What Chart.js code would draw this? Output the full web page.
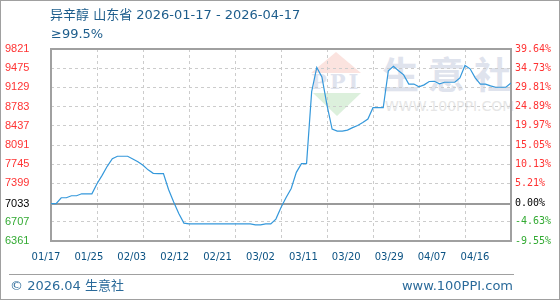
<!DOCTYPE html>
<html>
<head>
<meta charset="utf-8">
<script src="https://cdn.jsdelivr.net/npm/chart.js@4.4.1/dist/chart.umd.min.js"></script>
<style>
  body { margin: 0; background: #fff; }
  #wrap { position: relative; width: 560px; height: 300px; overflow: hidden;
          font-family: "DejaVu Sans", "Noto Sans CJK SC", sans-serif; }
  #frame { position: absolute; left: 0; top: 0; width: 558px; height: 298px; border: 1px solid #a0a0a0; }
  #chart { position: absolute; left: 0; top: 0; }
  .txt { position: absolute; white-space: nowrap; }
  .title { left: 50px; top: 6px; font-size: 13px; line-height: 18px; color: #1d5d8c; }
  .sub { left: 51px; top: 25px; font-size: 13px; line-height: 18px; color: #1d5d8c; }
  .foot { top: 277px; font-size: 13px; line-height: 17px; color: #2a6a9a; }
  #sep { position: absolute; left: 9px; top: 274px; width: 505px; height: 1px; background: #a0a0a0; }
  /* 水印 */
  .wm { position: absolute; width: 0; height: 0; }
  #wmUp { left: 311px; top: 52px; border-left: 25px solid transparent; border-right: 25px solid transparent; border-bottom: 21px solid #fbe3df; }
  #wmDown { left: 313px; top: 93px; border-left: 24px solid transparent; border-right: 24px solid transparent; border-top: 23px solid #dcf0dc; }
  #wmPPI { left: 311px; top: 70px; font-family: "DejaVu Serif", serif; font-weight: 700; font-size: 21px; line-height: 24px; letter-spacing: 3px; color: #dfe3ee; }
  .wmChar { top: 52px; font-family: "Noto Sans CJK SC", sans-serif; font-weight: 700; font-size: 37px; line-height: 42px; color: #dfe3ed; }
  #wmUrl { left: 385px; top: 98px; font-size: 14px; line-height: 16px; color: #e6e6e6; }
</style>
</head>
<body>
<div id="wrap">
  <div id="wmUp" class="wm"></div>
  <div id="wmDown" class="wm"></div>
  <div id="wmPPI" class="txt">PPI</div>
  <div class="txt wmChar" style="left:382px;">生</div>
  <div class="txt wmChar" style="left:428px;">意</div>
  <div class="txt wmChar" style="left:474px;">社</div>
  <div id="wmUrl" class="txt">WWW.100PPI.COM</div>
  <canvas id="chart" width="560" height="300"></canvas>
  <div class="txt title">异辛醇 山东省 2026-01-17 - 2026-04-17</div>
  <div class="txt sub">≥99.5%</div>
  <div id="sep"></div>
  <div class="txt foot" style="left:10px;">© 2026.04 生意社</div>
  <div class="txt foot" style="right:47px;">www.100PPI.com</div>
  <div id="frame"></div>
</div>
<script>
// 日价格 (元/吨), 从 2026-01-17 起每天一个值
const startDate = '2026-01-17';
const basePrice = 7033;
const prices = [
    7033, 7033, 7140, 7140, 7176, 7176, 7212, 7212, 7212, 7393,
    7544, 7707, 7843, 7888, 7888, 7888, 7839, 7788, 7725, 7643,
    7580, 7575, 7575, 7290, 7064, 6855, 6683, 6669, 6669, 6669,
    6669, 6669, 6669, 6669, 6669, 6669, 6669, 6669, 6669, 6669,
    6651, 6651, 6669, 6669, 6756, 6964, 7145, 7308, 7598, 7756,
    7756, 9053, 9488, 9319, 8810, 8377, 8341, 8341, 8360, 8404,
    8441, 8495, 8558, 8763, 8763, 8763, 9428, 9509, 9428, 9355,
    9189, 9189, 9140, 9175, 9235, 9240, 9195, 9222, 9222, 9222,
    9301, 9524, 9464, 9301, 9187, 9187, 9156, 9132, 9132, 9132,
    9210
];
const dateLabels = ['01/17', '01/25', '02/03', '02/12', '02/21', '03/02', '03/11', '03/20', '03/29', '04/07', '04/16'];
const yTicks = [6361, 6707, 7033, 7399, 7745, 8091, 8437, 8783, 9129, 9475, 9821];
const pctLabels = ['-9.55%', '-4.63%', '0.00%', '5.21%', '10.13%', '15.05%', '19.97%', '24.89%', '29.81%', '34.73%', '39.64%'];

// 涨红跌绿
function tickColor(c) {
    const v = c.tick.value;
    if (v > basePrice) return '#ff3333';
    if (v < basePrice) return '#33aa33';
    return '#000000';
}
const isBase = c => c.tick && c.tick.value === basePrice;

// 绘图区外框
const plotFrame = {
    id: 'plotFrame',
    beforeDatasetsDraw(chart) {
        const a = chart.chartArea;
        const g = chart.ctx;
        g.save();
        g.strokeStyle = '#a0a0a0';
        g.lineWidth = 2;
        g.strokeRect(a.left, a.top, a.right - a.left, a.bottom - a.top);
        g.restore();
    }
};

const ctx = document.getElementById('chart').getContext('2d');
const chart = new Chart(ctx, {
    type: 'line',
    data: {
        datasets: [{
            data: prices.map((v, i) => ({ x: i, y: v })),
            xAxisID: 'x',
            yAxisID: 'y',
            borderColor: '#3498db',
            borderWidth: 1.2,
            pointRadius: 0,
            tension: 0,
            fill: false
        }]
    },
    options: {
        responsive: false,
        animation: false,
        devicePixelRatio: 1,
        layout: { padding: { left: 5, top: 49, right: 0, bottom: 0 } },
        plugins: {
            legend: { display: false },
            tooltip: { enabled: false }
        },
        scales: {
            x: {
                type: 'linear',
                position: 'bottom',
                min: 0,
                max: prices.length - 1,
                ticks: { display: false, stepSize: 9 },
                grid: { color: '#cccccc', drawTicks: false },
                border: { display: false, dash: [3, 3] },
                afterFit: s => { s.height = 0; }
            },
            // 日期标签轴 (标签间距与网格不同)
            xl: {
                type: 'linear',
                axis: 'x',
                position: 'bottom',
                min: 0.117,
                max: 10.84,
                afterBuildTicks: s => { s.ticks = dateLabels.map((d, i) => ({ value: i })); },
                ticks: {
                    callback: (v, i) => dateLabels[i],
                    autoSkip: false,
                    maxRotation: 0,
                    padding: 10,
                    color: '#0b5283',
                    font: { family: 'DejaVu Sans', size: 10 }
                },
                grid: { display: false, drawTicks: false },
                border: { display: false },
                afterFit: s => { s.height = 59; }
            },
            y: {
                type: 'linear',
                position: 'left',
                min: yTicks[0],
                max: yTicks[yTicks.length - 1],
                afterBuildTicks: s => { s.ticks = yTicks.map(v => ({ value: v })); },
                ticks: {
                    callback: v => String(v),
                    crossAlign: 'far',
                    color: tickColor,
                    font: { family: 'Liberation Sans', size: 11 }
                },
                grid: {
                    color: c => isBase(c) ? '#9a9a9a' : '#cccccc',
                    lineWidth: c => isBase(c) ? 2 : 1,
                    drawTicks: false
                },
                border: { display: false, dash: c => isBase(c) ? [] : [3, 3] },
                afterFit: s => { s.width = 46; }
            },
            y2: {
                type: 'linear',
                position: 'right',
                min: yTicks[0],
                max: yTicks[yTicks.length - 1],
                afterBuildTicks: s => { s.ticks = yTicks.map(v => ({ value: v })); },
                ticks: {
                    callback: (v, i) => pctLabels[i],
                    color: tickColor,
                    padding: 4,
                    font: { family: 'DejaVu Sans Mono', size: 10 }
                },
                grid: { display: false, drawTicks: false },
                border: { display: false },
                afterFit: s => { s.width = 49; }
            }
        }
    },
    plugins: [plotFrame]
});
</script>
</body>
</html>
